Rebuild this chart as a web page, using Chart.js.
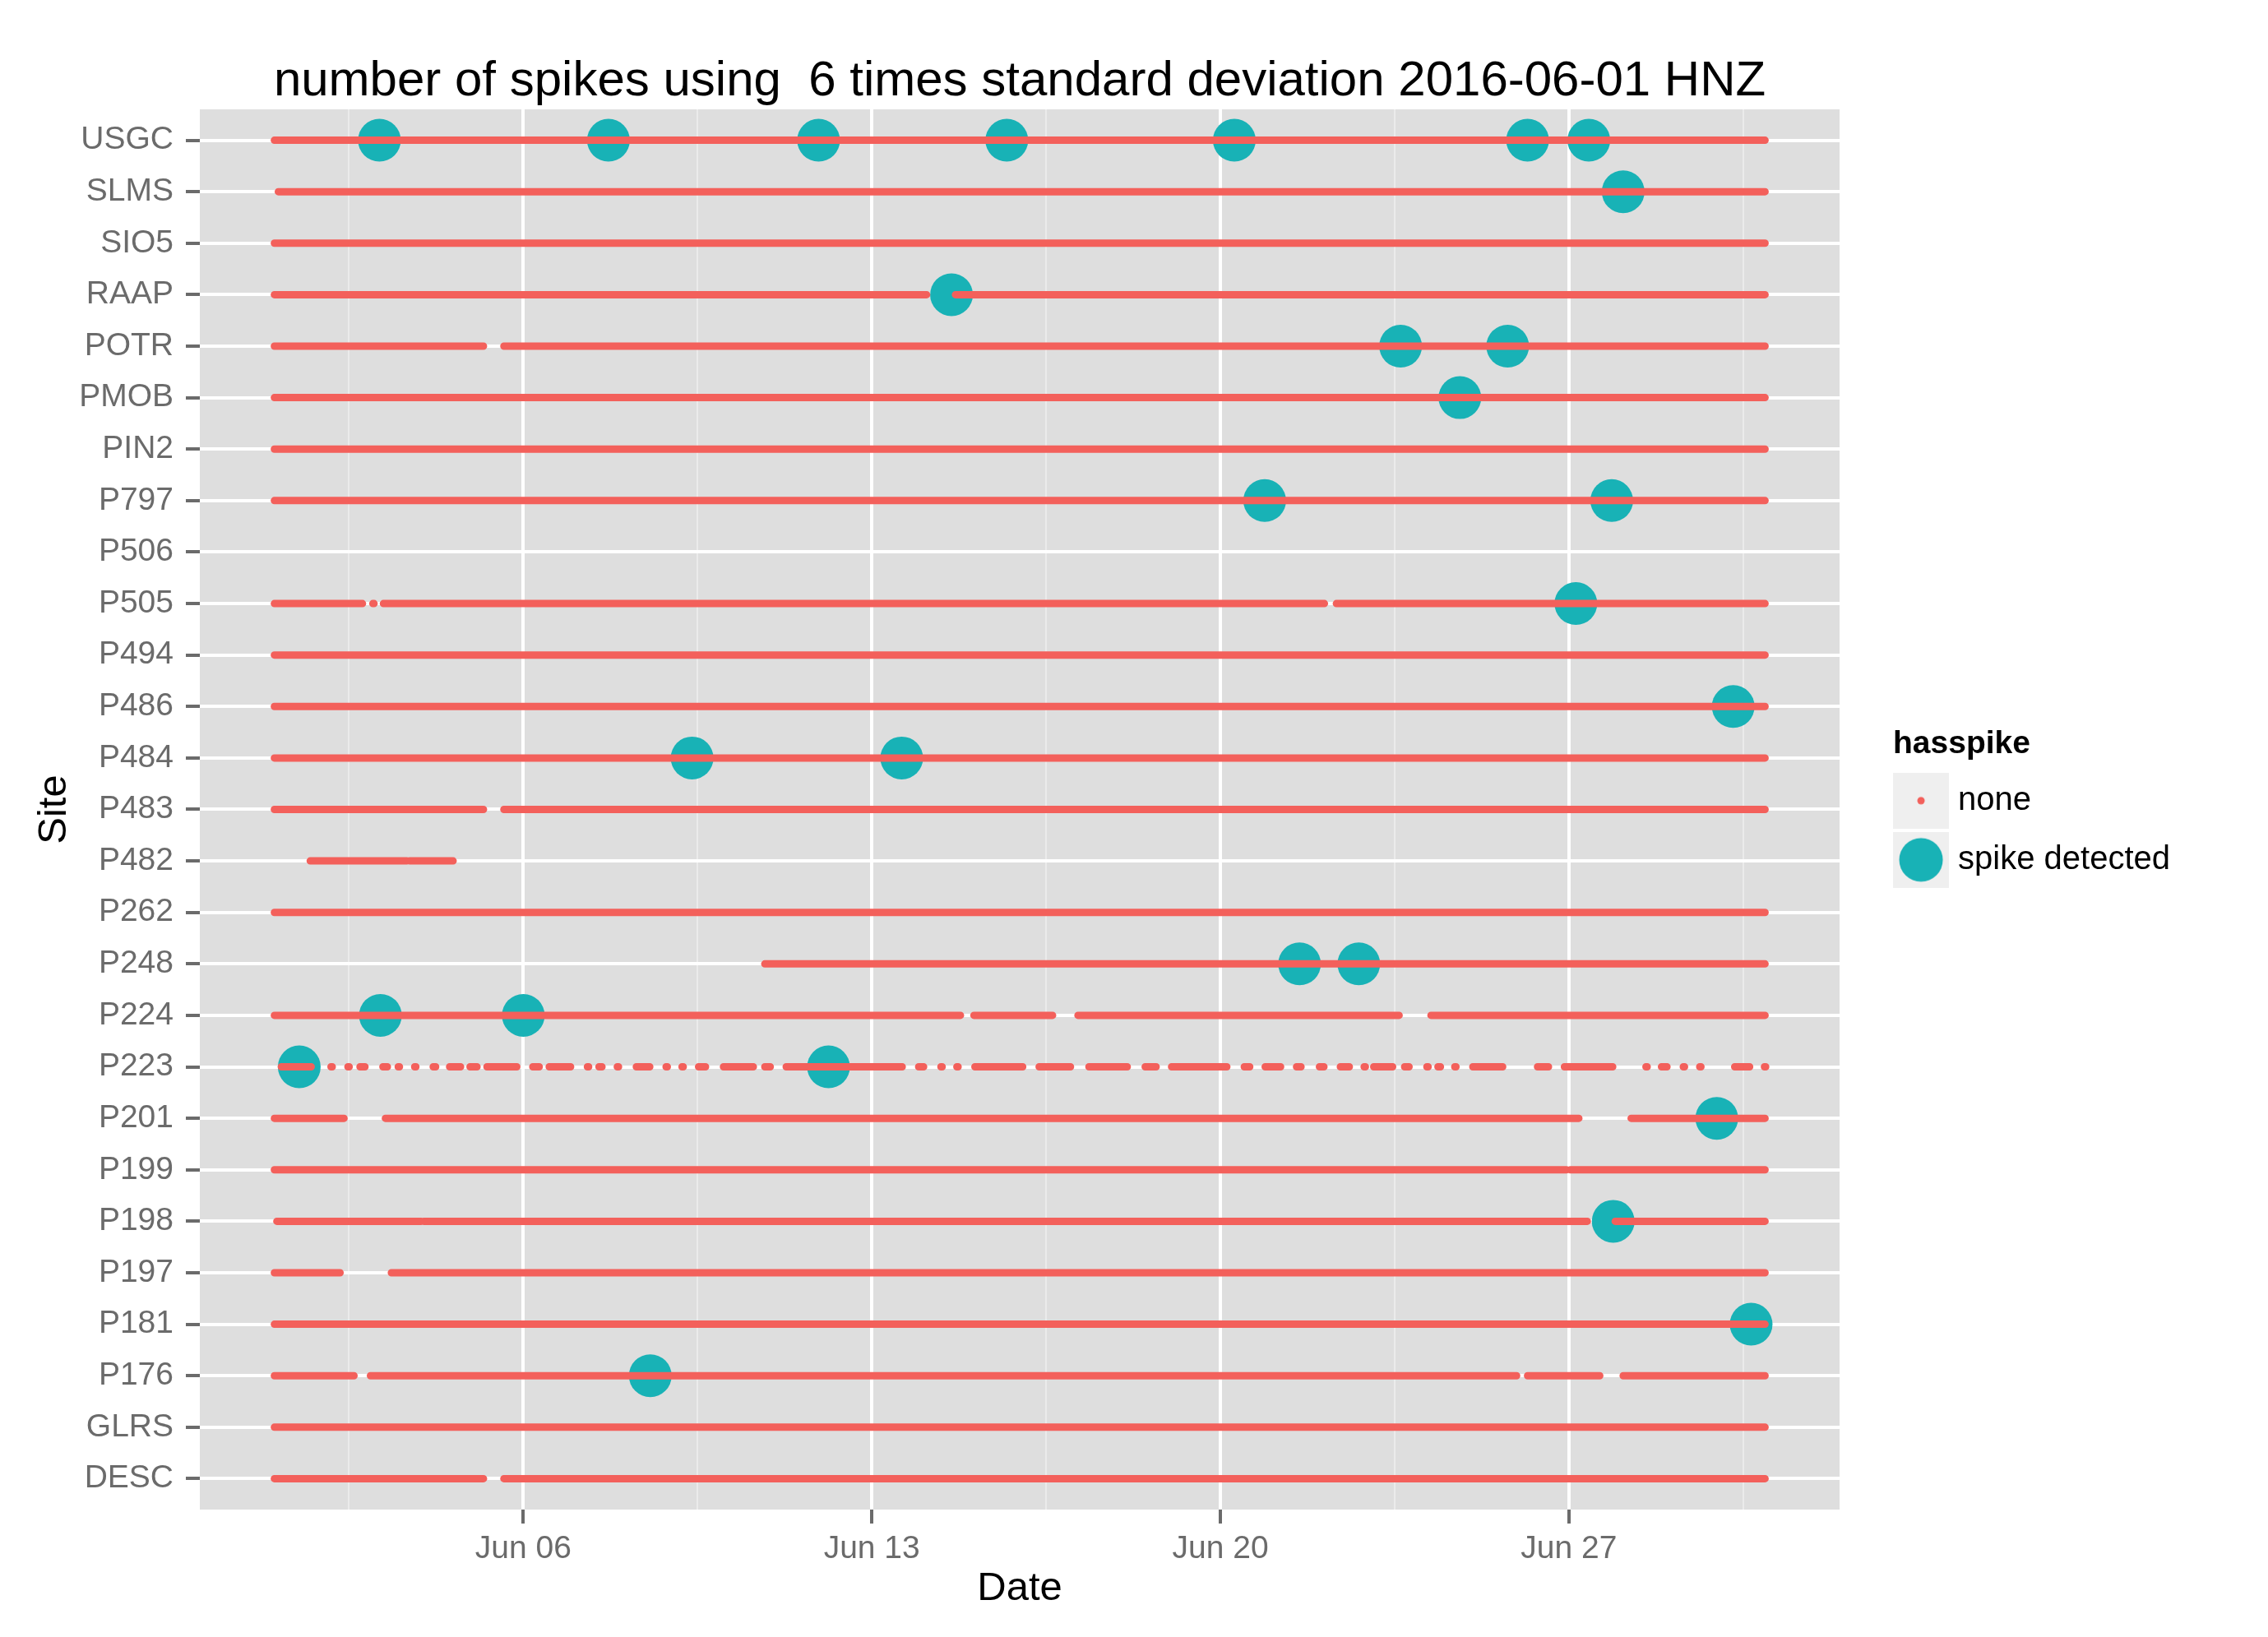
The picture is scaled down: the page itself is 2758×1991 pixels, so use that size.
<!DOCTYPE html>
<html lang="en">
<head>
  <meta charset="UTF-8">
  <title>number of spikes 2016-06-01 HNZ</title>
  <script src="https://cdn.jsdelivr.net/npm/chart.js"></script>
  <style>
    html, body { margin: 0; padding: 0; background: #fff; overflow: hidden; }
    #wrap { width: 2758px; height: 1991px; }
  </style>
</head>
<body>
  <div id="wrap"><canvas id="spikeChart" width="2758" height="1991"></canvas></div>

  <script>
    // sites, top row first
    const sites = ['USGC', 'SLMS', 'SIO5', 'RAAP', 'POTR', 'PMOB', 'PIN2', 'P797', 'P506',
      'P505', 'P494', 'P486', 'P484', 'P483', 'P482', 'P262', 'P248', 'P224', 'P223',
      'P201', 'P199', 'P198', 'P197', 'P181', 'P176', 'GLRS', 'DESC'];

    // stretches with data and no spike, in days after 2016-06-01 00:00 [start, end]
    const runsUSGC = [[0, 29.94]];
    const runsSLMS = [[0.08, 29.94]];
    const runsSIO5 = [[0, 29.94]];
    const runsRAAP = [[0, 13.1], [13.68, 29.94]];
    const runsPOTR = [[0, 4.2], [4.61, 29.94]];
    const runsPMOB = [[0, 29.94]];
    const runsPIN2 = [[0, 29.94]];
    const runsP797 = [[0, 29.94]];
    const runsP506 = [];
    const runsP505 = [[0, 1.77], [1.99, 1.99], [2.19, 21.09], [21.33, 29.94]];
    const runsP494 = [[0, 29.94]];
    const runsP486 = [[0, 29.94]];
    const runsP484 = [[0, 29.94]];
    const runsP483 = [[0, 4.2], [4.61, 29.94]];
    const runsP482 = [[0.72, 2.66], [2.72, 3.59]];
    const runsP262 = [[0, 29.94]];
    const runsP248 = [[9.85, 29.94]];
    const runsP224 = [[0, 13.78], [14.05, 15.63], [16.14, 22.59], [23.23, 29.94]];
    const runsP223 = [[0.14, 0.74], [1.15, 1.15], [1.49, 1.49], [1.72, 1.82], [2.18, 2.27],
      [2.5, 2.5], [2.83, 2.83], [3.19, 3.24], [3.52, 3.74], [3.93, 4.07], [4.27, 4.87],
      [5.19, 5.32], [5.52, 5.95], [6.3, 6.3], [6.52, 6.58], [6.9, 6.9], [7.27, 7.54],
      [7.88, 7.88], [8.2, 8.2], [8.52, 8.66], [9.02, 9.62], [9.85, 9.96], [10.28, 12.61],
      [12.94, 13.04], [13.4, 13.4], [13.72, 13.72], [14.07, 15.03], [15.36, 15.99],
      [16.36, 17.13], [17.49, 17.71], [18.02, 19.13], [19.48, 19.59], [19.9, 20.21],
      [20.53, 20.62], [20.99, 21.08], [21.41, 21.59], [21.9, 21.9], [22.08, 22.46],
      [22.7, 22.79], [23.16, 23.16], [23.37, 23.42], [23.72, 23.72], [24.07, 24.67],
      [25.37, 25.59], [25.91, 26.88], [27.56, 27.56], [27.86, 27.97], [28.31, 28.31],
      [28.64, 28.64], [29.33, 29.63], [29.94, 29.94]];
    const runsP201 = [[0, 1.4], [2.23, 26.2], [27.25, 29.94]];
    const runsP199 = [[0, 25.95], [26.03, 29.94]];
    const runsP198 = [[0.05, 2.95], [3.0, 26.37], [26.93, 29.94]];
    const runsP197 = [[0, 1.32], [2.35, 29.94]];
    const runsP181 = [[0, 29.94]];
    const runsP176 = [[0, 1.6], [1.93, 24.95], [25.17, 26.62], [27.09, 29.94]];
    const runsGLRS = [[0, 29.94]];
    const runsDESC = [[0, 4.2], [4.61, 29.94]];

    // detected spikes: site and day
    const spikeSites = ['USGC', 'USGC', 'USGC', 'USGC', 'USGC', 'USGC', 'USGC', 'SLMS', 'RAAP',
      'POTR', 'POTR', 'PMOB', 'P797', 'P797', 'P505', 'P486', 'P484', 'P484', 'P248', 'P248',
      'P224', 'P224', 'P223', 'P223', 'P201', 'P198', 'P181', 'P176'];
    const spikeDays = [2.11, 6.71, 10.93, 14.71, 19.28, 25.17, 26.4, 27.09, 13.6,
      22.62, 24.77, 23.81, 19.89, 26.86, 26.14, 29.3, 8.39, 12.6, 20.59, 21.78,
      2.13, 5.0, 0.5, 11.13, 28.97, 26.89, 29.66, 7.55];

    const xTickDays = [5, 12, 19, 26];
    const xTickLabels = ['Jun 06', 'Jun 13', 'Jun 20', 'Jun 27'];
    const xMinorDays = [1.5, 8.5, 15.5, 22.5, 29.5];

    const runsBySite = {
      USGC: runsUSGC, SLMS: runsSLMS, SIO5: runsSIO5, RAAP: runsRAAP, POTR: runsPOTR,
      PMOB: runsPMOB, PIN2: runsPIN2, P797: runsP797, P506: runsP506, P505: runsP505,
      P494: runsP494, P486: runsP486, P484: runsP484, P483: runsP483, P482: runsP482,
      P262: runsP262, P248: runsP248, P224: runsP224, P223: runsP223, P201: runsP201,
      P199: runsP199, P198: runsP198, P197: runsP197, P181: runsP181, P176: runsP176,
      GLRS: runsGLRS, DESC: runsDESC
    };

    const RED = '#F3605B';
    const CYAN = '#18B2B6';
    const GREY_TEXT = '#6B6B6B';

    Chart.defaults.font.family = "'Liberation Sans', Arial, Helvetica, sans-serif";

    // one line dataset, each run is its own piece (null y breaks the line)
    const lineData = [];
    sites.forEach((site, i) => {
      runsBySite[site].forEach(([a, b]) => {
        if (b - a < 0.025) { a -= 0.0125; b += 0.0125; }
        lineData.push({ x: a, y: i }, { x: b, y: i }, { x: b, y: null });
      });
    });
    const spikeData = spikeSites.map((s, k) => ({ x: spikeDays[k], y: sites.indexOf(s) }));

    // legend keys like ggplot: grey square with the symbol
    function legendKey(color, r) {
      const c = document.createElement('canvas');
      c.width = 68; c.height = 68;
      const g = c.getContext('2d');
      g.fillStyle = '#EFEFEF';
      g.fillRect(0, 0, 68, 68);
      g.fillStyle = color;
      g.beginPath();
      g.arc(34, 34, r, 0, Math.PI * 2);
      g.fill();
      return c;
    }

    const panelBg = {
      id: 'panelBg',
      beforeDraw(chart) {
        const { ctx, chartArea: a } = chart;
        ctx.save();
        ctx.fillStyle = '#DEDEDE';
        ctx.fillRect(a.left, a.top, a.right - a.left, a.bottom - a.top);
        ctx.restore();
      }
    };

    const isMajor = c => c.tick && xTickDays.includes(c.tick.value);

    new Chart(document.getElementById('spikeChart'), {
      type: 'line',
      data: {
        datasets: [
          {
            label: 'none', data: lineData, yAxisID: 'y', order: 0,
            borderColor: RED, borderWidth: 9, borderCapStyle: 'round', borderJoinStyle: 'round',
            pointRadius: 0, pointHoverRadius: 0, fill: false, spanGaps: false, tension: 0
          },
          {
            label: 'spike detected', data: spikeData, yAxisID: 'y', order: 1,
            showLine: false, pointRadius: 26, pointHoverRadius: 26,
            pointBackgroundColor: CYAN, pointBorderWidth: 0, backgroundColor: CYAN
          }
        ]
      },
      options: {
        responsive: false,
        devicePixelRatio: 1,
        animation: false,
        events: [],
        layout: { padding: { left: 0, top: 0, right: 109, bottom: 0 } },
        scales: {
          x: {
            type: 'linear', min: -1.497, max: 31.437,
            afterBuildTicks: s => {
              s.ticks = xMinorDays.concat(xTickDays).sort((a, b) => a - b).map(v => ({ value: v }));
            },
            afterFit: s => { s.height = 155; },
            grid: {
              color: c => isMajor(c) ? '#FFFFFF' : '#EBEBEB',
              lineWidth: c => isMajor(c) ? 4 : 2,
              tickColor: c => isMajor(c) ? GREY_TEXT : 'rgba(0,0,0,0)',
              tickLength: 17, tickWidth: 4
            },
            border: { display: false },
            ticks: {
              callback: v => { const k = xTickDays.indexOf(v); return k >= 0 ? xTickLabels[k] : ''; },
              color: GREY_TEXT, font: { size: 39 }, padding: 8, maxRotation: 0, autoSkip: false
            },
            title: { display: true, text: 'Date', color: '#000', font: { size: 49 }, padding: { top: 0, bottom: 29 } }
          },
          y: {
            type: 'linear', reverse: true, min: -0.6, max: 26.6,
            afterBuildTicks: s => { s.ticks = sites.map((_, i) => ({ value: i })); },
            afterFit: s => { s.width = 243; },
            grid: { color: '#FFFFFF', lineWidth: 4, tickColor: GREY_TEXT, tickLength: 17, tickWidth: 4 },
            border: { display: false },
            ticks: {
              callback: v => sites[v],
              color: GREY_TEXT, font: { size: 39 }, padding: 15, autoSkip: false
            },
            title: { display: true, text: 'Site', color: '#000', font: { size: 49 }, padding: { top: 37, bottom: 0 } }
          },
          gap: {
            type: 'linear', position: 'right', display: true,
            grid: { display: false, drawTicks: false },
            ticks: { display: false },
            border: { display: false },
            afterFit: s => { s.width = 65; }
          }
        },
        plugins: {
          title: {
            display: true, fullSize: false,
            text: 'number of spikes using  6 times standard deviation 2016-06-01 HNZ',
            color: '#000', font: { size: 60, weight: 'normal' },
            padding: { top: 63, bottom: -2 }
          },
          legend: {
            position: 'right', align: 'start',
            title: {
              display: true, text: 'hasspike', position: 'start', color: '#000',
              font: { size: 39, weight: 'bold' }, padding: { top: 886, bottom: 12 }
            },
            labels: {
              usePointStyle: true, pointStyleWidth: 50, padding: 9, color: '#000',
              font: { size: 40, lineHeight: 1.575 },
              generateLabels: () => [
                { text: ['none'], pointStyle: legendKey(RED, 4.5), fillStyle: RED, strokeStyle: RED,
                  lineWidth: 0, hidden: false, fontColor: '#000', datasetIndex: 0 },
                { text: ['spike detected'], pointStyle: legendKey(CYAN, 26.5), fillStyle: CYAN, strokeStyle: CYAN,
                  lineWidth: 0, hidden: false, fontColor: '#000', datasetIndex: 1 }
              ]
            }
          },
          tooltip: { enabled: false }
        }
      },
      plugins: [panelBg]
    });
  </script>
</body>
</html>
